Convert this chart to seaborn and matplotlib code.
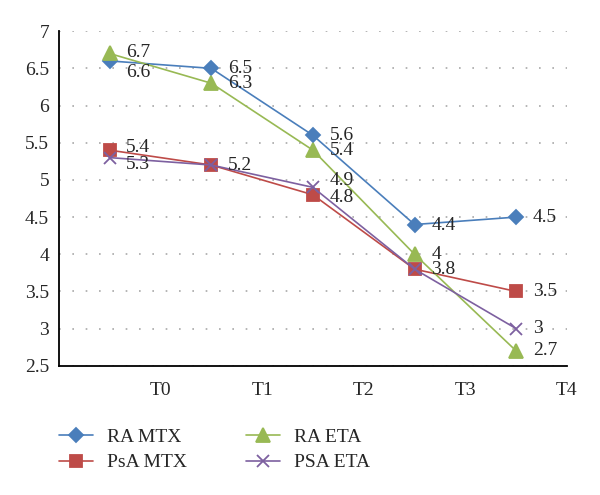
import seaborn as sns
import matplotlib.pyplot as plt
import pandas as pd

times = ['T0', 'T1', 'T2', 'T3', 'T4']
ra_mtx = [6.6, 6.5, 5.6, 4.4, 4.5]
psa_mtx = [5.4, 5.2, 4.8, 3.8, 3.5]
ra_eta = [6.7, 6.3, 5.4, 4.0, 2.7]
psa_eta = [5.3, 5.2, 4.9, 3.8, 3.0]

series = {'RA MTX': ra_mtx, 'PsA MTX': psa_mtx, 'RA ETA': ra_eta, 'PSA ETA': psa_eta}
colors = {'RA MTX': '#4a7ebb', 'PsA MTX': '#be4b48', 'RA ETA': '#98b954', 'PSA ETA': '#7d60a0'}
markers = {'RA MTX': 'D', 'PsA MTX': 's', 'RA ETA': '^', 'PSA ETA': 'x'}
msize = {'RA MTX': 6.8, 'PsA MTX': 9, 'RA ETA': 9.5, 'PSA ETA': 8}
# vertical nudge (points) of the value labels so they don't collide
nudge = {'RA MTX': [-8, 0, 0, -1, 0], 'PsA MTX': [2, 0, -2, 0, 0],
         'RA ETA': [1, 0, 0, 0, 0], 'PSA ETA': [-5, 0, 5, 0, 0]}

sns.set_style('white')
plt.rcParams['font.family'] = ['Liberation Serif', 'DejaVu Serif']
fs = 14

fig, ax = plt.subplots(figsize=(6, 4.95), dpi=100)
fig.subplots_adjust(left=0.098, right=0.945, top=0.937, bottom=0.261)

seen = set()
for name, vals in series.items():
    df = pd.DataFrame({'x': range(len(times)), 'y': vals})
    sns.lineplot(data=df, x='x', y='y', ax=ax, color=colors[name], marker=markers[name],
                 markersize=msize[name], markeredgecolor=colors[name],
                 markeredgewidth=1.3, linewidth=1.2, label=name)
    for i, v in enumerate(vals):
        if (i, v) in seen:
            continue  # same value at same point: label shown once, as in the original
        seen.add((i, v))
        ax.annotate(f'{v:g}', (i, v), xytext=(12, nudge[name][i]), textcoords='offset points',
                    ha='left', va='center', fontsize=fs)

ax.set_xlim(-0.5, 4.5)
ax.set_ylim(2.5, 7)
ax.set_yticks([2.5, 3, 3.5, 4, 4.5, 5, 5.5, 6, 6.5, 7])
ax.set_yticklabels(['2.5', '3', '3.5', '4', '4.5', '5', '5.5', '6', '6.5', '7'])
ax.set_xticks([-0.5, 0.5, 1.5, 2.5, 3.5, 4.5])
ax.set_xticklabels([''] + times)
ax.set_xlabel('')
ax.set_ylabel('')
ax.tick_params(axis='both', direction='out', length=4, width=1.2, color='black', labelsize=fs)
ax.tick_params(axis='x', pad=8)
ax.tick_params(axis='y', pad=3)
ax.yaxis.grid(True, linestyle=(0, (1, 7)), color='#a8a8a8', linewidth=1.2)
ax.set_axisbelow(True)
sns.despine(ax=ax)
for s in ['left', 'bottom']:
    ax.spines[s].set_color('black')
    ax.spines[s].set_linewidth(1.3)

handles, labels = ax.get_legend_handles_labels()
ax.get_legend().remove()
fig.legend(handles, labels, ncol=2, loc='upper left', bbox_to_anchor=(0.098, 1 - 428 / 495),
           frameon=False, fontsize=fs, borderpad=0, borderaxespad=0, handlelength=1.75,
           handletextpad=0.75, columnspacing=3.0, labelspacing=0.42)

fig.savefig('out.png', dpi=100)
